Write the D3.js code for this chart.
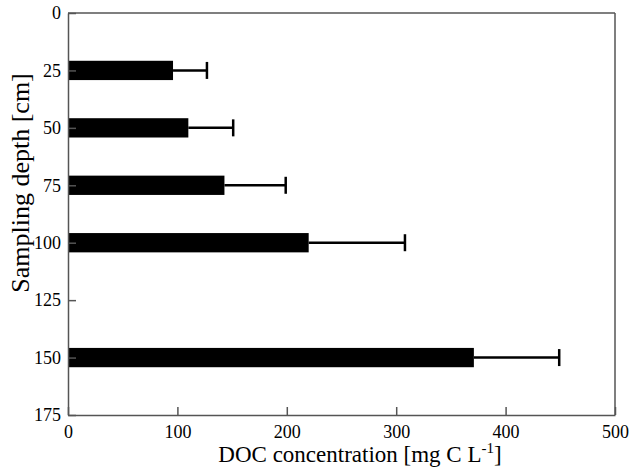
<!doctype html>
<html lang="en">
<head>
  <meta charset="utf-8">
  <style>
    body { margin: 0; background: #fff; }
    text { font-family: 'Liberation Serif', 'Times New Roman', serif; fill: #000; }
  </style>
</head>
<body>
  <script src="https://d3js.org/d3.v7.min.js"></script>
  <div id="chart"></div>
  <script>
    // Data
    var depths = [25, 50, 75, 100, 150];
    var docMean = [96, 110, 143, 220, 371];
    var docErr = [31, 41, 56, 88, 78];
    var xTicks = [0, 100, 200, 300, 400, 500];
    var yTicks = [0, 25, 50, 75, 100, 125, 150, 175];

    var width = 630, height = 470;
    var margin = {top: 13, right: 15, bottom: 55, left: 68};
    var iw = width - margin.left - margin.right,
        ih = height - margin.top - margin.bottom;

    var svg = d3.select("#chart").append("svg")
      .attr("width", width)
      .attr("height", height);

    var g = svg.append("g")
      .attr("transform", "translate(" + margin.left + "," + margin.top + ")");

    var x = d3.scaleLinear().domain([0, 500]).range([0, iw]);
    var y = d3.scaleLinear().domain([0, 175]).range([0, ih]);
    var barH = y(8.4) - y(0);

    // bars
    g.selectAll("rect.bar").data(depths).enter()
      .append("rect")
      .attr("class", "bar")
      .attr("x", x(0))
      .attr("y", function(d) { return y(d) - barH / 2; })
      .attr("width", function(d, i) { return x(docMean[i]) - x(0); })
      .attr("height", barH)
      .attr("fill", "#000");

    // error bars
    var err = g.append("g").attr("stroke", "#000").attr("stroke-width", 2.5);
    depths.forEach(function(d, i) {
      err.append("line")
        .attr("x1", x(docMean[i])).attr("x2", x(docMean[i] + docErr[i]))
        .attr("y1", y(d)).attr("y2", y(d));
      err.append("line")
        .attr("x1", x(docMean[i] + docErr[i])).attr("x2", x(docMean[i] + docErr[i]))
        .attr("y1", y(d) - 8.5).attr("y2", y(d) + 8.5);
    });

    // axes (ticks pointing inward)
    var xAxis = g.append("g")
      .attr("transform", "translate(0," + ih + ")")
      .call(d3.axisBottom(x).tickValues(xTicks).tickSizeInner(-8).tickSizeOuter(0).tickPadding(10));
    var yAxis = g.append("g")
      .call(d3.axisLeft(y).tickValues(yTicks).tickSizeInner(-8).tickSizeOuter(0).tickPadding(7));

    [xAxis, yAxis].forEach(function(a) {
      a.attr("font-family", "Liberation Serif").attr("font-size", 18);
      a.selectAll("path, line").attr("stroke", "#555").attr("stroke-width", 1.5);
      a.selectAll("text")
        .attr("font-family", "Liberation Serif")
        .attr("font-size", 18)
        .attr("fill", "#000");
    });

    // top and right frame
    g.append("line").attr("x1", 0).attr("x2", iw).attr("y1", 0).attr("y2", 0)
      .attr("stroke", "#555").attr("stroke-width", 1.5);
    g.append("line").attr("x1", iw).attr("x2", iw).attr("y1", 0).attr("y2", ih)
      .attr("stroke", "#555").attr("stroke-width", 1.5);

    // axis titles
    var xt = svg.append("text")
      .attr("x", 360).attr("y", 462)
      .attr("text-anchor", "middle")
      .style("font-size", "23px");
    xt.append("tspan").text("DOC concentration [mg C L");
    xt.append("tspan").attr("dy", -9).style("font-size", "15px").text("-1");
    xt.append("tspan").attr("dy", 9).text("]");

    svg.append("text")
      .attr("transform", "translate(29,183) rotate(-90)")
      .attr("text-anchor", "middle")
      .style("font-size", "26px")
      .text("Sampling depth [cm]");
  </script>
</body>
</html>
